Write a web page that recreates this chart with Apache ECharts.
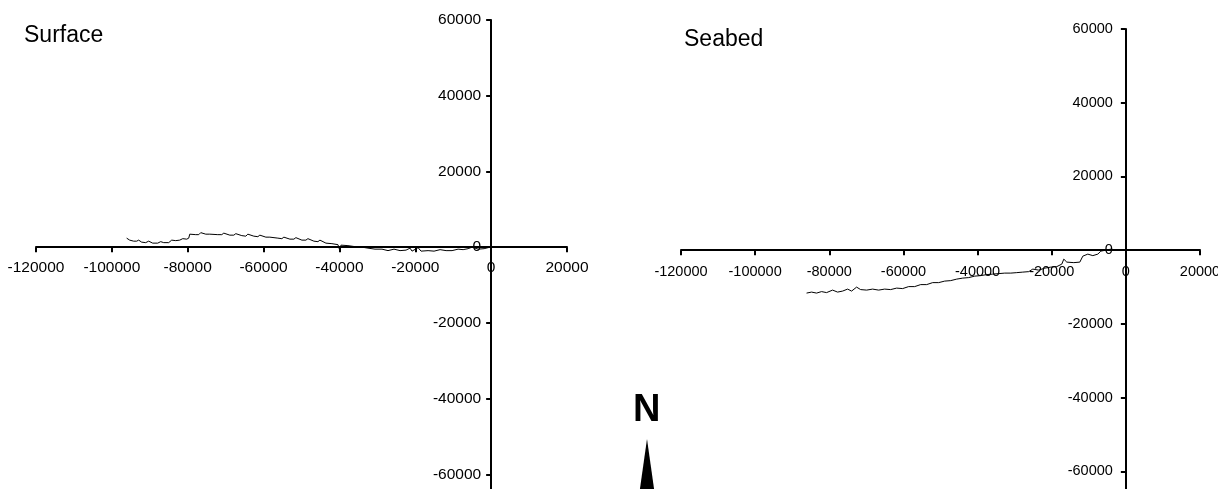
<!DOCTYPE html>
<html>
<head>
<meta charset="utf-8">
<script src="https://cdn.jsdelivr.net/npm/echarts@6/dist/echarts.min.js"></script>
<style>
html,body{margin:0;padding:0;background:#fff;}
#chart{width:1218px;height:489px;}
</style>
</head>
<body>
<div id="chart"></div>
<script>
const panelTitles = ['Surface', 'Seabed'];
const northLabel = 'N';
const axisMin = -120000, axisMax = 20000, axisStep = 20000;
const yMin = -80000, yMax = 60000;

const surfaceX = [-96100,-95300,-94250,-93460,-92930,-92140,-91080,-90290,-89230,-87910,-87120,-86330,-85010,-84220,-83160,-82100,-81310,-80260,-79730,-79460,-78940,-77880,-77090,-76560,-75240,-74180,-73660,-72070,-71020,-70490,-68900,-67850,-67320,-65740,-64680,-64150,-62570,-61510,-60980,-59400,-58340,-57820,-56230,-55180,-54650,-53060,-52010,-51480,-49900,-48840,-48310,-46730,-45670,-45140,-43560,-41980,-40390,-39860,-39600,-37750,-35900,-34060,-32470,-30620,-28780,-27190,-25610,-24020,-22440,-21380,-20860,-19270,-18480,-16630,-15050,-13460,-11880,-10300,-8710,-7390,-6070,-5020,-3430,-1850,-790,0];
const surfaceY = [2380,1850,1580,1580,1850,1320,1190,1580,1060,1060,1450,1190,1190,1850,1720,1850,2240,2110,2380,3430,3700,3300,3300,3830,3430,3430,3830,3300,3300,3700,3170,3170,3560,3040,2900,3430,2900,2770,3170,2640,2640,2900,2380,2240,2640,2110,2110,2510,1850,1850,2240,1580,1450,1850,1060,920,660,-1060,530,400,130,0,-260,-530,-530,-920,-530,-920,-790,-260,-1060,-130,-1060,-920,-1060,-660,-920,-920,-530,-660,-400,0,-530,-400,-130,0];

const seabedX = [-86130,-84780,-83430,-82080,-80730,-79110,-77760,-76410,-75060,-73980,-72630,-71550,-69930,-68310,-66690,-65070,-63450,-61830,-60210,-58590,-56970,-55350,-53730,-52110,-50490,-48870,-47250,-45630,-44010,-42390,-40770,-39150,-37530,-35910,-34290,-32670,-31050,-29430,-27810,-26190,-25110,-23490,-21870,-20250,-18630,-17280,-16740,-15930,-14040,-12420,-11610,-10260,-8910,-7560,-6750,-5400,-4050,-2430,-1080,0];
const seabedY = [-11650,-11380,-11650,-11250,-11520,-10840,-11380,-11110,-10570,-11110,-10030,-10700,-10840,-10570,-10840,-10570,-10700,-10300,-10430,-9890,-9890,-9350,-9350,-8810,-8810,-8400,-8270,-7860,-7590,-7450,-7050,-6910,-6640,-6500,-6370,-6230,-6230,-6100,-5960,-5830,-5150,-5420,-4880,-4610,-4470,-3790,-2440,-3250,-3390,-3250,-1630,-1080,-1490,-1080,-270,0,270,0,140,0];

const FONT = "'Liberation Sans', Arial, sans-serif";
function pairs(xs, ys){ return xs.map((x,i)=>[x, ys[i]]); }

// grid geometry
const G = [
  {left:36, top:20, width:531, height:530, fs:15.5, ym:10, xm:13},
  {left:681, top:29, width:519, height:516, fs:14.5, ym:13, xm:14}
];
function xOffset(g){ // move x axis from grid bottom up to y = 0
  const zeroY = g.top + g.height * (yMax - 0) / (yMax - yMin);
  return -(g.top + g.height - zeroY);
}
function yOffset(g){ // move y axis from grid left to x = 0
  const zeroX = g.left + g.width * (0 - axisMin) / (axisMax - axisMin);
  return -(zeroX - g.left);
}

function xAxisCfg(gi){
  const g = G[gi];
  return {
    gridIndex: gi, type:'value', min:axisMin, max:axisMax, interval:axisStep,
    position:'bottom', offset:xOffset(g),
    axisLine:{show:true, onZero:false, lineStyle:{color:'#000', width:2}},
    axisTick:{show:true, inside:false, length:5, lineStyle:{color:'#000', width:2}},
    axisLabel:{color:'#000', fontFamily:FONT, fontSize:g.fs, margin:g.xm, hideOverlap:false,
      showMinLabel:true, showMaxLabel:true, formatter:v=>String(v)},
    splitLine:{show:false}
  };
}
function yAxisCfg(gi){
  const g = G[gi];
  return {
    gridIndex: gi, type:'value', min:yMin, max:yMax, interval:axisStep,
    position:'left', offset:yOffset(g),
    axisLine:{show:true, onZero:false, lineStyle:{color:'#000', width:2}},
    axisTick:{show:true, inside:false, length:5, lineStyle:{color:'#000', width:2}},
    axisLabel:{color:'#000', fontFamily:FONT, fontSize:g.fs, margin:g.ym, hideOverlap:false,
      showMinLabel:true, showMaxLabel:true, formatter:v=>String(v)},
    splitLine:{show:false}
  };
}

const chart = echarts.init(document.getElementById('chart'));
chart.setOption({
  animation:false,
  backgroundColor:'#fff',
  grid:G.map(g=>({left:g.left, top:g.top, width:g.width, height:g.height, containLabel:false, outerBoundsMode:'none'})),
  xAxis:[xAxisCfg(0), xAxisCfg(1)],
  yAxis:[yAxisCfg(0), yAxisCfg(1)],
  series:[
    {type:'line', xAxisIndex:0, yAxisIndex:0, data:pairs(surfaceX, surfaceY), showSymbol:false, symbol:'none',
     lineStyle:{color:'#000', width:1}, clip:false, z:1},
    {type:'line', xAxisIndex:1, yAxisIndex:1, data:pairs(seabedX, seabedY), showSymbol:false, symbol:'none',
     lineStyle:{color:'#000', width:1}, clip:false, z:1}
  ],
  graphic:[
    {type:'text', left:24, top:24, style:{text:panelTitles[0], font:"23px "+FONT, fill:'#000'}},
    {type:'text', left:684, top:28, style:{text:panelTitles[1], font:"23px "+FONT, fill:'#000'}},
    {type:'text', left:633, top:392, style:{text:northLabel, font:"bold 38px "+FONT, fill:'#000'}},
    {type:'polygon', shape:{points:[[647,439],[639.5,492],[654.5,492]]}, style:{fill:'#000'}}
  ]
});
</script>
</body>
</html>
